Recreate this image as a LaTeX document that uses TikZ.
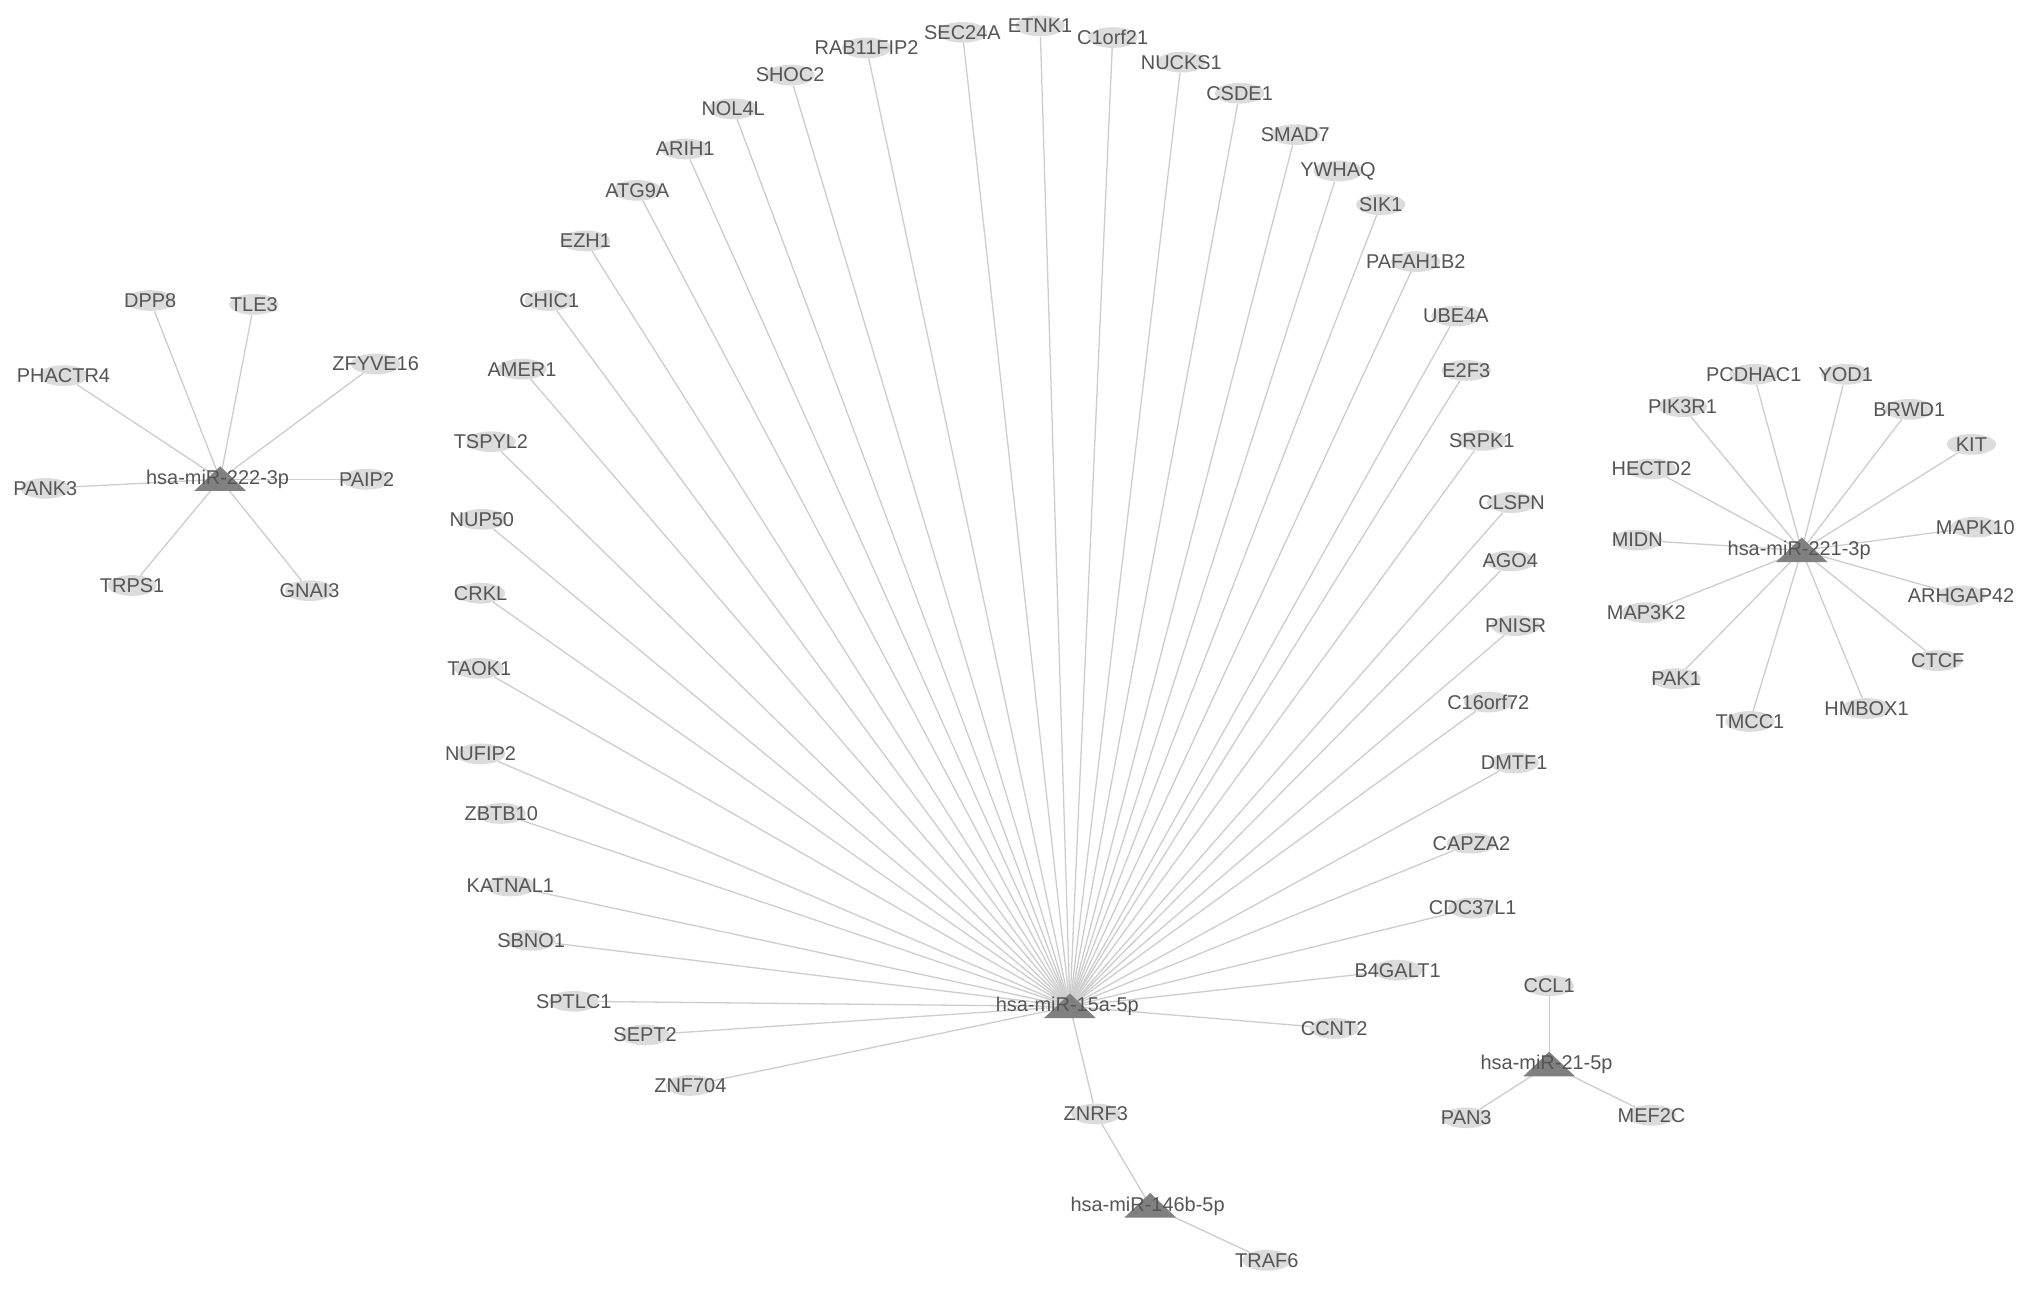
\documentclass[tikz,border=0pt]{standalone}
\usepackage{fontspec}
\setmainfont{Liberation Sans}
\usetikzlibrary{shapes.geometric,backgrounds}
\definecolor{genefill}{HTML}{DCDCDC}
\definecolor{hubfill}{HTML}{808080}
\definecolor{edgec}{HTML}{CDCDCD}
\definecolor{txt}{HTML}{555555}
\newcommand\mkgene[4]{\node[gene,label={[glab]center:#4}] (#1) at (#2,#3) {};}
\newcommand\mkhub[4]{\coordinate (#1) at (#2,#3);
  \fill[hubfill] ([shift={(-20,9)}]#1) -- ([shift={(20,9)}]#1) -- ([shift={(0,-10)}]#1) -- cycle;
  \node[glab] (#1lab) at ([shift={(-2,0)}]#1) {#4};}
\begin{document}
\begin{tikzpicture}[x=1pt,y=-1pt,
 gene/.style={ellipse,fill=genefill,minimum width=38pt,minimum height=16pt,inner sep=0pt},
 glab/.style={text=txt,font=\fontsize{15.4}{16}\selectfont,inner sep=0pt},
 edge/.style={draw=edgec,line width=1pt}]
\useasboundingbox (0,0) rectangle (1568,995);
% hubs
\mkhub{h15}{826}{777}{hsa-miR-15a-5p}
\mkhub{h146}{888}{931}{hsa-miR-146b-5p}
\mkhub{h222}{170}{370}{hsa-miR-222-3p}
\mkhub{h221}{1391}{425}{hsa-miR-221-3p}
\mkhub{h21}{1196}{822}{hsa-miR-21-5p}
% fan of 15a
\mkgene{RAB11FIP2}{669}{37}{RAB11FIP2}
\mkgene{SEC24A}{743}{25}{SEC24A}
\mkgene{ETNK1}{803}{20}{ETNK1}
\mkgene{C1orf21}{859}{29}{C1orf21}
\mkgene{NUCKS1}{912}{48}{NUCKS1}
\mkgene{CSDE1}{957}{72}{CSDE1}
\mkgene{SMAD7}{1000}{104}{SMAD7}
\mkgene{YWHAQ}{1033}{132}{YWHAQ}
\mkgene{SIK1}{1066}{158}{SIK1}
\mkgene{PAFAH1B2}{1093}{202}{PAFAH1B2}
\mkgene{UBE4A}{1124}{244}{UBE4A}
\mkgene{E2F3}{1132}{286}{E2F3}
\mkgene{SRPK1}{1144}{340}{SRPK1}
\mkgene{CLSPN}{1167}{388}{CLSPN}
\mkgene{AGO4}{1166}{433}{AGO4}
\mkgene{PNISR}{1170}{483}{PNISR}
\mkgene{C16orf72}{1149}{542}{C16orf72}
\mkgene{DMTF1}{1169}{589}{DMTF1}
\mkgene{CAPZA2}{1136}{651}{CAPZA2}
\mkgene{CDC37L1}{1137}{701}{CDC37L1}
\mkgene{B4GALT1}{1079}{749}{B4GALT1}
\mkgene{CCNT2}{1030}{794}{CCNT2}
\mkgene{SHOC2}{610}{58}{SHOC2}
\mkgene{NOL4L}{566}{84}{NOL4L}
\mkgene{ARIH1}{529}{115}{ARIH1}
\mkgene{ATG9A}{492}{147}{ATG9A}
\mkgene{EZH1}{452}{186}{EZH1}
\mkgene{CHIC1}{424}{232}{CHIC1}
\mkgene{AMER1}{403}{285}{AMER1}
\mkgene{TSPYL2}{379}{341}{TSPYL2}
\mkgene{NUP50}{372}{401}{NUP50}
\mkgene{CRKL}{371}{458}{CRKL}
\mkgene{TAOK1}{370}{516}{TAOK1}
\mkgene{NUFIP2}{371}{582}{NUFIP2}
\mkgene{ZBTB10}{387}{628}{ZBTB10}
\mkgene{KATNAL1}{394}{684}{KATNAL1}
\mkgene{SBNO1}{410}{726}{SBNO1}
\mkgene{SPTLC1}{443}{773}{SPTLC1}
\mkgene{SEPT2}{498}{799}{SEPT2}
\mkgene{ZNF704}{533}{838}{ZNF704}
\mkgene{ZNRF3}{846}{860}{ZNRF3}
\mkgene{TRAF6}{978}{973}{TRAF6}
% 222 cluster
\mkgene{DPP8}{116}{232}{DPP8}
\mkgene{TLE3}{196}{235}{TLE3}
\mkgene{ZFYVE16}{290}{281}{ZFYVE16}
\mkgene{PHACTR4}{49}{290}{PHACTR4}
\mkgene{PAIP2}{283}{370}{PAIP2}
\mkgene{PANK3}{35}{377}{PANK3}
\mkgene{TRPS1}{102}{452}{TRPS1}
\mkgene{GNAI3}{239}{456}{GNAI3}
% 221 cluster
\mkgene{PCDHAC1}{1354}{289}{PCDHAC1}
\mkgene{YOD1}{1425}{289}{YOD1}
\mkgene{BRWD1}{1474}{316}{BRWD1}
\mkgene{PIK3R1}{1299}{314}{PIK3R1}
\mkgene{KIT}{1522}{343}{KIT}
\mkgene{HECTD2}{1275}{362}{HECTD2}
\mkgene{MAPK10}{1525}{407}{MAPK10}
\mkgene{MIDN}{1264}{417}{MIDN}
\mkgene{ARHGAP42}{1514}{460}{ARHGAP42}
\mkgene{MAP3K2}{1271}{473}{MAP3K2}
\mkgene{CTCF}{1496}{510}{CTCF}
\mkgene{PAK1}{1294}{524}{PAK1}
\mkgene{HMBOX1}{1441}{547}{HMBOX1}
\mkgene{TMCC1}{1351}{557}{TMCC1}
% 21 cluster
\mkgene{CCL1}{1196}{761}{CCL1}
\mkgene{PAN3}{1132}{863}{PAN3}
\mkgene{MEF2C}{1275}{861}{MEF2C}
\begin{pgfonlayer}{background}
\fill[white] (0,0) rectangle (1568,995);
\foreach \g in {RAB11FIP2,SEC24A,ETNK1,C1orf21,NUCKS1,CSDE1,SMAD7,YWHAQ,SIK1,PAFAH1B2,UBE4A,E2F3,SRPK1,CLSPN,AGO4,PNISR,C16orf72,DMTF1,CAPZA2,CDC37L1,B4GALT1,CCNT2,SHOC2,NOL4L,ARIH1,ATG9A,EZH1,CHIC1,AMER1,TSPYL2,NUP50,CRKL,TAOK1,NUFIP2,ZBTB10,KATNAL1,SBNO1,SPTLC1,SEPT2,ZNF704,ZNRF3}
  \draw[edge] (h15) -- (\g);
\draw[edge] (h146) -- (ZNRF3);
\draw[edge] (h146) -- (TRAF6);
\foreach \g in {DPP8,TLE3,ZFYVE16,PHACTR4,PAIP2,PANK3,TRPS1,GNAI3}
  \draw[edge] (h222) -- (\g);
\foreach \g in {PCDHAC1,YOD1,BRWD1,PIK3R1,KIT,HECTD2,MAPK10,MIDN,ARHGAP42,MAP3K2,CTCF,PAK1,HMBOX1,TMCC1}
  \draw[edge] (h221) -- (\g);
\foreach \g in {CCL1,PAN3,MEF2C}
  \draw[edge] (h21) -- (\g);
\end{pgfonlayer}
\end{tikzpicture}
\end{document}
